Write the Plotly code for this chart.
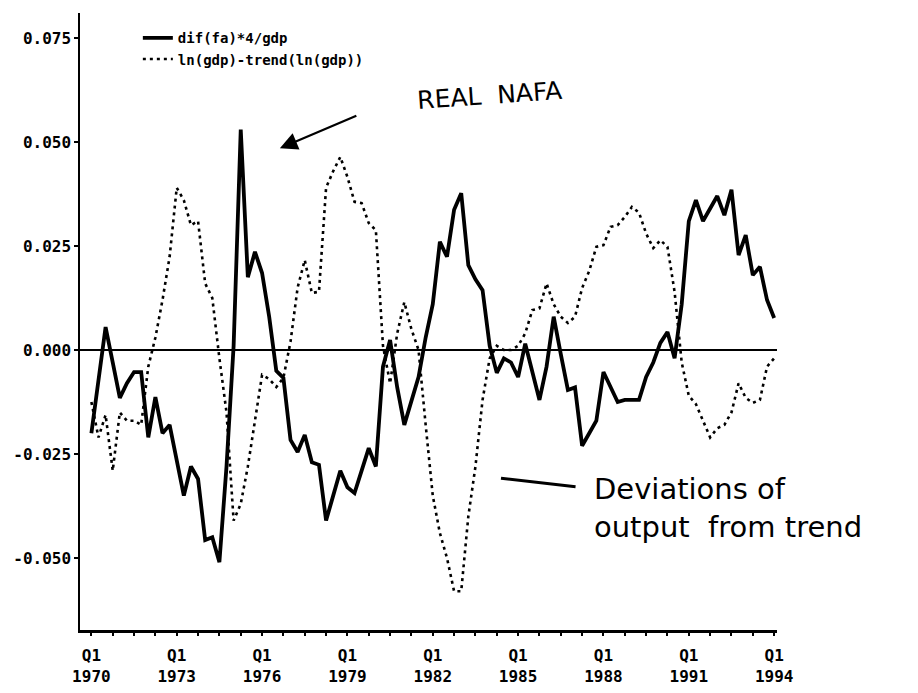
import plotly.graph_objects as go

# Quarterly observations, 1970Q1 .. 1994Q1 (97 quarters)
start_year = 1970
n_quarters = 97
quarter_index = list(range(n_quarters))

# dif(fa)*4/gdp  (solid, thick)
nafa = [
    -0.020, -0.008, 0.0055, -0.003, -0.0115, -0.008, -0.0053, -0.0053, -0.021, -0.0113,
    -0.020, -0.018, -0.027, -0.035, -0.028, -0.031, -0.0457, -0.045, -0.051, -0.028,
    0.001, 0.053, 0.0175, 0.0236, 0.0185, 0.008, -0.005, -0.0067, -0.0216, -0.0245,
    -0.0204, -0.027, -0.0276, -0.041, -0.035, -0.029, -0.033, -0.0344, -0.029, -0.0236,
    -0.028, -0.004, 0.0024, -0.009, -0.018, -0.012, -0.0065, 0.003, 0.011, 0.026,
    0.0224, 0.0337, 0.0377, 0.0204, 0.017, 0.0144, 0.001, -0.0055, -0.002, -0.003,
    -0.0065, 0.0015, -0.005, -0.012, -0.004, 0.008, -0.001, -0.0096, -0.009, -0.023,
    -0.020, -0.017, -0.0053, -0.009, -0.0125, -0.012, -0.012, -0.012, -0.0065, -0.003,
    0.0017, 0.0043, -0.002, 0.011, 0.031, 0.036, 0.031, 0.034, 0.037, 0.0324,
    0.0385, 0.0228, 0.0276, 0.018, 0.020, 0.012, 0.0077,
]

# ln(gdp)-trend(ln(gdp))  (dotted)
gap = [
    -0.0125, -0.021, -0.0156, -0.029, -0.015, -0.017, -0.017, -0.018, -0.004, 0.003,
    0.012, 0.0224, 0.039, 0.036, 0.030, 0.031, 0.016, 0.0125, -0.002, -0.015,
    -0.041, -0.037, -0.028, -0.0168, -0.006, -0.007, -0.0089, -0.0067, 0.002, 0.015,
    0.0216, 0.0137, 0.014, 0.039, 0.043, 0.0464, 0.0416, 0.0356, 0.0353, 0.0305,
    0.0288, 0.001, -0.008, 0.004, 0.0115, 0.005, 0.000, -0.018, -0.035, -0.044,
    -0.050, -0.058, -0.058, -0.040, -0.028, -0.012, -0.002, 0.001, 0.000, 0.000,
    0.001, 0.004, 0.0096, 0.010, 0.016, 0.011, 0.008, 0.0065, 0.008, 0.0149,
    0.019, 0.0248, 0.0252, 0.0296, 0.030, 0.032, 0.0344, 0.033, 0.028, 0.0245,
    0.0264, 0.0248, 0.014, -0.003, -0.011, -0.013, -0.017, -0.021, -0.0188, -0.018,
    -0.015, -0.008, -0.0115, -0.0127, -0.012, -0.004, -0.002,
]

series_names = ["dif(fa)*4/gdp", "ln(gdp)-trend(ln(gdp))"]

y_tick_vals = [-0.050, -0.025, 0.000, 0.025, 0.050, 0.075]
y_tick_text = ["-0.050", "-0.025", "0.000", "0.025", "0.050", "0.075"]

# x ticks every 3 quarters, labelled every 3 years
x_tick_vals = list(range(0, n_quarters, 3))
x_tick_text = [
    ("Q1<br>%d" % (start_year + v // 4)) if v % 12 == 0 else ""
    for v in x_tick_vals
]

mono = "DejaVu Sans Mono"

fig = go.Figure()
fig.add_trace(go.Scatter(
    x=quarter_index, y=nafa, mode="lines", name=series_names[0],
    line=dict(color="black", width=3.8),
))
fig.add_trace(go.Scatter(
    x=quarter_index, y=gap, mode="lines", name=series_names[1],
    line=dict(color="black", width=2.6, dash="3px,4px"),
))

fig.update_layout(
    width=918, height=693,
    margin=dict(l=70, r=149, t=5, b=71),
    paper_bgcolor="white", plot_bgcolor="white",
    font=dict(family=mono, size=14, color="black"),
    showlegend=True,
    legend=dict(
        x=0.083, y=0.985, xanchor="left", yanchor="top",
        bgcolor="rgba(0,0,0,0)", borderwidth=0,
        font=dict(family=mono, size=14, color="black", weight="bold"),
        tracegroupgap=0, itemwidth=30,
    ),
    xaxis=dict(
        range=[-1.6, 96.4], showgrid=False, zeroline=False,
        showline=True, linecolor="black", linewidth=2.5,
        ticks="outside", ticklen=3, tickwidth=1.5, tickcolor="black",
        tickvals=x_tick_vals, ticktext=x_tick_text,
        ticklabelstandoff=6,
        tickfont=dict(family=mono, size=16, weight="bold"),
    ),
    yaxis=dict(
        range=[-0.0673, 0.081], showgrid=False,
        zeroline=True, zerolinecolor="black", zerolinewidth=2,
        showline=True, linecolor="black", linewidth=1.5,
        ticks="outside", ticklen=4, tickwidth=1.5, tickcolor="black",
        tickvals=y_tick_vals, ticktext=y_tick_text,
        tickfont=dict(family=mono, size=16, weight="bold"),
    ),
)

hand = "DejaVu Sans"
# handwritten notes
fig.add_annotation(
    xref="paper", yref="paper", x=0.587, y=0.867, xanchor="center", yanchor="middle",
    text="REAL  NAFA", showarrow=False, textangle=-4,
    font=dict(family=hand, size=25, color="black"),
)
fig.add_annotation(
    x=26.5, y=0.0485, xref="x", yref="y", text="", showarrow=True,
    ax=78, ay=-33, arrowhead=2, arrowsize=1.6, arrowwidth=2.2, arrowcolor="black",
)
fig.add_shape(
    type="line", xref="paper", yref="paper",
    x0=0.604, y0=0.246, x1=0.711, y1=0.232,
    line=dict(color="black", width=3),
)
fig.add_annotation(
    xref="paper", yref="paper", x=0.735, y=0.198, xanchor="left", yanchor="middle",
    text="Deviations of<br>output  from trend", showarrow=False, align="left",
    font=dict(family=hand, size=29, color="black"),
)

fig.write_html("out.html")
